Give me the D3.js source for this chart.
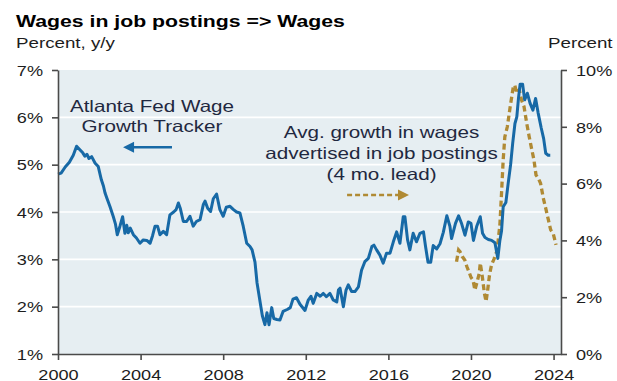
<!doctype html>
<html>
<head>
  <meta charset="UTF-8">
  <title>Wages in job postings => Wages</title>
  <script src="https://cdn.jsdelivr.net/npm/d3@7/dist/d3.min.js"></script>
  <style>
    body { margin: 0; background: #fff; }
    svg { display: block; font-family: "Liberation Sans", Arial, sans-serif; }
  </style>
</head>
<body>
<div id="chart"></div>
<script>
  // Atlanta Fed Wage Growth Tracker (left axis, %)
  var trackerYears = [
    2000.00, 2000.15, 2000.35, 2000.55, 2000.74, 2000.90, 2001.07, 2001.20, 2001.30, 2001.40,
    2001.50, 2001.63, 2001.80, 2001.95, 2002.10, 2002.20, 2002.28, 2002.36, 2002.52, 2002.68,
    2002.78, 2002.87, 2003.00, 2003.13, 2003.24, 2003.33, 2003.40, 2003.50, 2003.65, 2003.80,
    2003.97, 2004.13, 2004.30, 2004.46, 2004.58, 2004.70, 2004.82, 2004.94, 2005.10, 2005.26,
    2005.42, 2005.60, 2005.72, 2005.83, 2005.92, 2006.07, 2006.23, 2006.39, 2006.55, 2006.70,
    2006.88, 2007.04, 2007.12, 2007.25, 2007.39, 2007.52, 2007.68, 2007.84, 2008.00, 2008.15,
    2008.33, 2008.50, 2008.65, 2008.81, 2008.97, 2009.14, 2009.30, 2009.40, 2009.54, 2009.64,
    2009.78, 2009.90, 2010.02, 2010.12, 2010.22, 2010.35, 2010.45, 2010.60, 2010.75, 2010.90,
    2011.10, 2011.25, 2011.38, 2011.55, 2011.72, 2011.96, 2012.12, 2012.25, 2012.36, 2012.53,
    2012.70, 2012.85, 2013.00, 2013.17, 2013.33, 2013.50, 2013.58, 2013.66, 2013.82, 2013.95,
    2014.06, 2014.22, 2014.38, 2014.55, 2014.70, 2014.86, 2015.03, 2015.20, 2015.30, 2015.43,
    2015.59, 2015.75, 2015.91, 2016.08, 2016.24, 2016.40, 2016.56, 2016.72, 2016.80, 2016.93,
    2017.04, 2017.20, 2017.36, 2017.53, 2017.70, 2017.80, 2017.92, 2018.05, 2018.17, 2018.34,
    2018.50, 2018.66, 2018.83, 2018.98, 2019.06, 2019.25, 2019.40, 2019.55, 2019.71, 2019.87,
    2020.00, 2020.12, 2020.28, 2020.45, 2020.56, 2020.68, 2020.84, 2021.00, 2021.16, 2021.30,
    2021.40, 2021.48, 2021.56, 2021.69, 2021.80, 2021.92, 2022.02, 2022.13, 2022.22, 2022.30,
    2022.38, 2022.50, 2022.60, 2022.73, 2022.86, 2023.00, 2023.13, 2023.25, 2023.40, 2023.52,
    2023.62, 2023.74, 2023.84
  ];
  var trackerValues = [
    4.80, 4.82, 4.95, 5.05, 5.20, 5.39, 5.31, 5.25, 5.18, 5.22,
    5.13, 5.17, 5.03, 4.96, 4.68, 4.55, 4.40, 4.30, 4.11, 3.90,
    3.75, 3.52, 3.70, 3.90, 3.55, 3.72, 3.56, 3.66, 3.52, 3.45,
    3.34, 3.41, 3.40, 3.34, 3.50, 3.70, 3.70, 3.52, 3.59, 3.52,
    3.94, 4.00, 4.05, 4.19, 4.08, 3.80, 3.80, 3.91, 3.70, 3.80,
    3.84, 4.16, 4.23, 4.08, 4.01, 4.28, 4.38, 4.05, 3.91, 4.10,
    4.12, 4.05, 4.00, 3.98, 3.70, 3.34, 3.27, 3.20, 2.94, 2.50,
    2.12, 1.80, 1.62, 1.87, 1.62, 1.98, 1.75, 1.73, 1.72, 1.90,
    1.94, 1.98, 2.16, 2.19, 2.05, 1.92, 2.14, 2.22, 2.07, 2.28,
    2.22, 2.28, 2.21, 2.28, 2.14, 2.10, 2.35, 2.39, 2.00, 2.35,
    2.46, 2.32, 2.32, 2.42, 2.77, 2.95, 3.02, 3.27, 3.30, 3.20,
    3.09, 2.92, 3.13, 3.13, 3.37, 3.58, 3.34, 3.90, 3.90, 3.41,
    3.20, 3.55, 3.37, 3.55, 3.58, 3.27, 2.94, 2.94, 3.29, 3.22,
    3.33, 3.57, 3.92, 3.70, 3.44, 3.76, 3.92, 3.75, 3.51, 3.79,
    3.76, 3.40, 3.70, 3.90, 3.55, 3.46, 3.42, 3.40, 3.35, 3.02,
    3.40, 3.60, 4.11, 4.20, 4.60, 5.00, 5.45, 5.87, 6.01, 6.40,
    6.70, 6.70, 6.37, 6.51, 6.30, 6.15, 6.40, 6.10, 5.78, 5.55,
    5.24, 5.20, 5.20
  ];

  // Avg. growth in wages advertised in job postings, 4 mo. lead (right axis, %)
  var postingYears = [
    2019.30, 2019.40, 2019.47, 2019.58, 2019.70, 2019.80, 2019.90, 2020.00, 2020.10, 2020.19,
    2020.30, 2020.40, 2020.45, 2020.55, 2020.65, 2020.73, 2020.80, 2020.90, 2021.00, 2021.12,
    2021.24, 2021.32, 2021.40, 2021.48, 2021.56, 2021.64, 2021.76, 2021.90, 2022.05, 2022.12,
    2022.22, 2022.34, 2022.45, 2022.57, 2022.70, 2022.82, 2022.95, 2023.05, 2023.15, 2023.26,
    2023.37, 2023.50, 2023.63, 2023.75, 2023.86, 2023.98, 2024.12
  ];
  var postingValues = [
    3.25, 3.66, 3.60, 3.43, 3.31, 3.08, 2.90, 2.70, 2.60, 2.25,
    2.55, 2.84, 3.20, 2.72, 2.14, 1.85, 2.20, 2.80, 3.15, 3.35,
    3.60, 4.01, 4.55, 5.66, 6.83, 7.65, 8.00, 8.71, 9.41, 9.47,
    9.18, 9.30, 8.94, 8.71, 8.12, 7.65, 7.18, 6.83, 6.30, 6.19,
    6.01, 5.50, 5.10, 4.72, 4.37, 4.25, 3.84
  ];

  var leftTicks = [1, 2, 3, 4, 5, 6, 7];
  var rightTicks = [0, 2, 4, 6, 8, 10];
  var yearTicks = [2000, 2004, 2008, 2012, 2016, 2020, 2024];

  var w = 617, h = 381,
    plotL = 58, plotR = 561, plotT = 70, plotB = 354,
    stretch = 1.25,
    blue = "#1769a6",
    gold = "#b08a34",
    ink = "#1d1d1d",
    navy = "#1f2840";

  var x = d3.scaleLinear().domain([2000, 2024.36]).range([plotL, plotR]);
  var yL = d3.scaleLinear().domain([1, 7]).range([plotB, plotT]);
  var yR = d3.scaleLinear().domain([0, 10]).range([plotB, plotT]);

  var svg = d3.select("#chart").append("svg")
    .attr("width", w)
    .attr("height", h);

  // text is a bit wider than plain Arial in the original, so stretch it
  function label(g, px, py, str, anchor, size, weight, color) {
    return g.append("text")
      .attr("transform", "translate(" + px + "," + py + ") scale(" + stretch + ",1)")
      .attr("text-anchor", anchor || "start")
      .attr("font-size", size)
      .attr("font-weight", weight || "normal")
      .attr("fill", color || ink)
      .text(str);
  }

  // plot background + grid
  svg.append("rect")
    .attr("x", plotL).attr("y", plotT)
    .attr("width", plotR - plotL).attr("height", plotB - plotT)
    .attr("fill", "#e6eef2");

  svg.append("g").selectAll("line")
    .data(leftTicks.filter(function(d) { return d > 1 && d < 7; }))
    .enter().append("line")
    .attr("x1", plotL).attr("x2", plotR)
    .attr("y1", function(d) { return yL(d); })
    .attr("y2", function(d) { return yL(d); })
    .attr("stroke", "#fff")
    .attr("stroke-width", 1.6);

  // lines
  var lineL = d3.line()
    .x(function(d) { return x(d[0]); })
    .y(function(d) { return yL(d[1]); });
  var lineR = d3.line()
    .x(function(d) { return x(d[0]); })
    .y(function(d) { return yR(d[1]); });

  svg.append("path")
    .datum(d3.zip(postingYears, postingValues))
    .attr("d", lineR)
    .attr("fill", "none")
    .attr("stroke", gold)
    .attr("stroke-width", 3.3)
    .attr("stroke-dasharray", "6,3.5");

  svg.append("path")
    .datum(d3.zip(trackerYears, trackerValues))
    .attr("d", lineL)
    .attr("fill", "none")
    .attr("stroke", blue)
    .attr("stroke-width", 3)
    .attr("stroke-linejoin", "round");

  // axes
  function styleAxis(g) {
    g.select(".domain").attr("stroke", "#4a4a4a").attr("stroke-width", 1.6);
    g.selectAll(".tick line").attr("stroke", "#4a4a4a").attr("stroke-width", 1.6);
    g.selectAll(".tick text").remove();
  }

  var gl = svg.append("g")
    .attr("transform", "translate(" + plotL + ",0)")
    .call(d3.axisLeft(yL).tickValues(leftTicks).tickSize(6).tickSizeOuter(0))
    .call(styleAxis);
  gl.selectAll(".tick").each(function(d) {
    label(d3.select(this), -15, 5.3, d + "%", "end", 14.5);
  });

  var gr = svg.append("g")
    .attr("transform", "translate(" + plotR + ",0)")
    .call(d3.axisRight(yR).tickValues(rightTicks).tickSize(6).tickSizeOuter(0))
    .call(styleAxis);
  gr.selectAll(".tick").each(function(d) {
    label(d3.select(this), 15, 5.3, d + "%", "start", 14.5);
  });

  var gb = svg.append("g")
    .attr("transform", "translate(0," + plotB + ")")
    .call(d3.axisBottom(x).tickValues(yearTicks).tickSize(6).tickSizeOuter(0))
    .call(styleAxis);
  gb.selectAll(".tick").each(function(d) {
    label(d3.select(this), 0, 25.5, String(d), "middle", 14.5);
  });

  // titles
  label(svg, 16, 27, "Wages in job postings => Wages", "start", 17, "bold", "#000");
  label(svg, 16, 48, "Percent, y/y", "start", 15, "normal", ink);
  label(svg, 548, 48, "Percent", "start", 15, "normal", ink);

  // annotations
  var ax = x(2004.55);
  label(svg, ax, yL(6.11), "Atlanta Fed Wage", "middle", 16.5, "normal", navy);
  label(svg, ax, yL(5.69), "Growth Tracker", "middle", 16.5, "normal", navy);

  var ay = yL(5.37);
  svg.append("line")
    .attr("x1", x(2005.52)).attr("x2", x(2003.5))
    .attr("y1", ay).attr("y2", ay)
    .attr("stroke", blue).attr("stroke-width", 2.5);
  svg.append("path")
    .attr("d", "M" + x(2003.15) + "," + ay + "l11,-5.5v11z")
    .attr("fill", blue);

  var bx = x(2015.67);
  label(svg, bx, yL(5.56), "Avg. growth in wages", "middle", 16.5, "normal", navy);
  label(svg, bx, yL(5.12), "advertised in job postings", "middle", 16.5, "normal", navy);
  label(svg, bx, yL(4.68), "(4 mo. lead)", "middle", 16.5, "normal", navy);

  var by = yL(4.36);
  svg.append("line")
    .attr("x1", x(2014.0)).attr("x2", x(2016.5))
    .attr("y1", by).attr("y2", by)
    .attr("stroke", gold).attr("stroke-width", 2.5)
    .attr("stroke-dasharray", "5,3");
  svg.append("path")
    .attr("d", "M" + x(2017.0) + "," + by + "l-11,-5.5v11z")
    .attr("fill", gold);
</script>
</body>
</html>
